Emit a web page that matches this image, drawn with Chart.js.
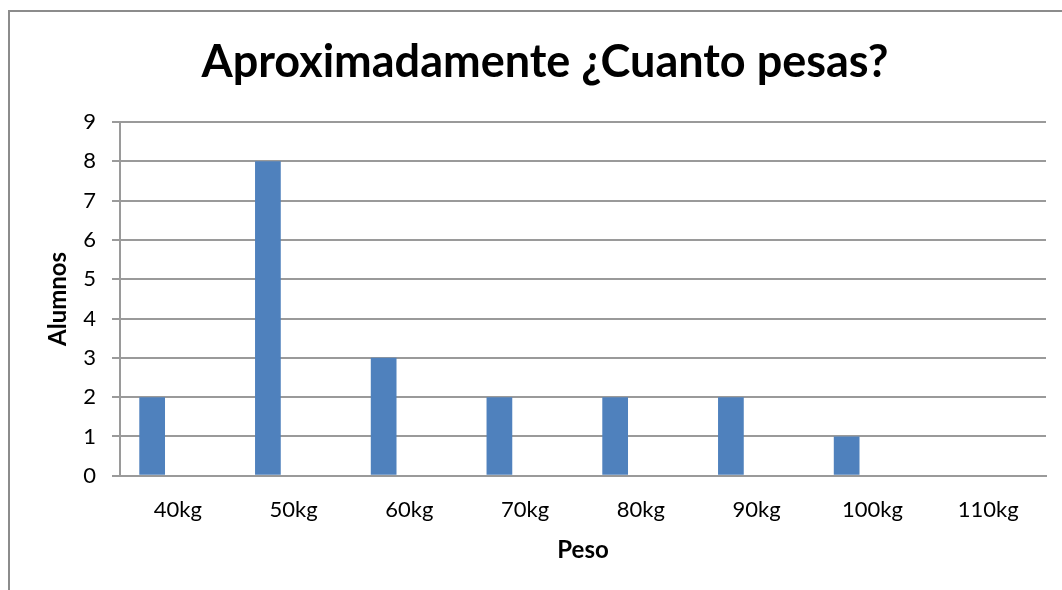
<!DOCTYPE html>
<html>
<head>
<meta charset="utf-8">
<script src="https://cdn.jsdelivr.net/npm/chart.js@4/dist/chart.umd.min.js"></script>
<style>
  html,body{margin:0;padding:0;background:#fff;overflow:hidden;}
  #frame{position:absolute;left:8px;top:10px;width:1100px;height:700px;border-left:2px solid #8c8c8c;border-top:2px solid #8c8c8c;}
  #wrap{position:absolute;left:0;top:0;width:1062px;height:590px;}
</style>
</head>
<body>
<div id="frame"></div>
<div id="wrap"><canvas id="c"></canvas></div>
<script>
// Datos
const categorias=["40kg","50kg","60kg","70kg","80kg","90kg","100kg","110kg"];
const alumnos=[2,8,3,2,2,2,1,0];
const serie2=[null,null,null,null,null,null,null,null];
const serie3=[null,null,null,null,null,null,null,null];
const yTicks=[0,1,2,3,4,5,6,7,8,9];

const FONT="Lato";
const gris="#9a9a9a";
const azul="#4f81bd";

const ctx=document.getElementById("c").getContext("2d");
const chart=new Chart(ctx,{
  type:"bar",
  data:{labels:categorias,datasets:[
    {label:"Alumnos",data:alumnos,backgroundColor:azul,categoryPercentage:3/4.5,barPercentage:1},
    {label:"s2",data:serie2,backgroundColor:"#c0504d",categoryPercentage:3/4.5,barPercentage:1},
    {label:"s3",data:serie3,backgroundColor:"#9bbb59",categoryPercentage:3/4.5,barPercentage:1}
  ]},
  options:{
    responsive:true,maintainAspectRatio:false,animation:false,
    layout:{padding:{left:44,right:16,top:35,bottom:25}},
    plugins:{
      legend:{display:false},tooltip:{enabled:false},
      title:{display:true,text:"Aproximadamente ¿Cuanto pesas?",color:"#000",
        font:{family:FONT,size:45,weight:"bold"},padding:{top:0,bottom:33}}
    },
    scales:{
      x:{
        grid:{display:false},
        border:{display:true,color:gris,width:2},
        ticks:{color:"#000",font:{family:FONT,size:22},padding:13},
        title:{display:true,text:"Peso",color:"#000",font:{family:FONT,size:24,weight:"bold"},padding:{top:0,bottom:0}}
      },
      y:{
        min:0,max:9,
        afterBuildTicks:s=>{s.ticks=yTicks.map(v=>({value:v}));},
        afterFit:s=>{s.width=120-44;},
        grid:{color:gris,lineWidth:2,tickLength:8},
        border:{display:true,color:gris,width:2},
        ticks:{color:"#000",font:{family:FONT,size:22},padding:16},
        title:{display:true,text:"Alumnos",color:"#000",font:{family:FONT,size:24,weight:"bold"},padding:{top:0,bottom:0}}
      }
    }
  }
});
</script>
</body>
</html>
